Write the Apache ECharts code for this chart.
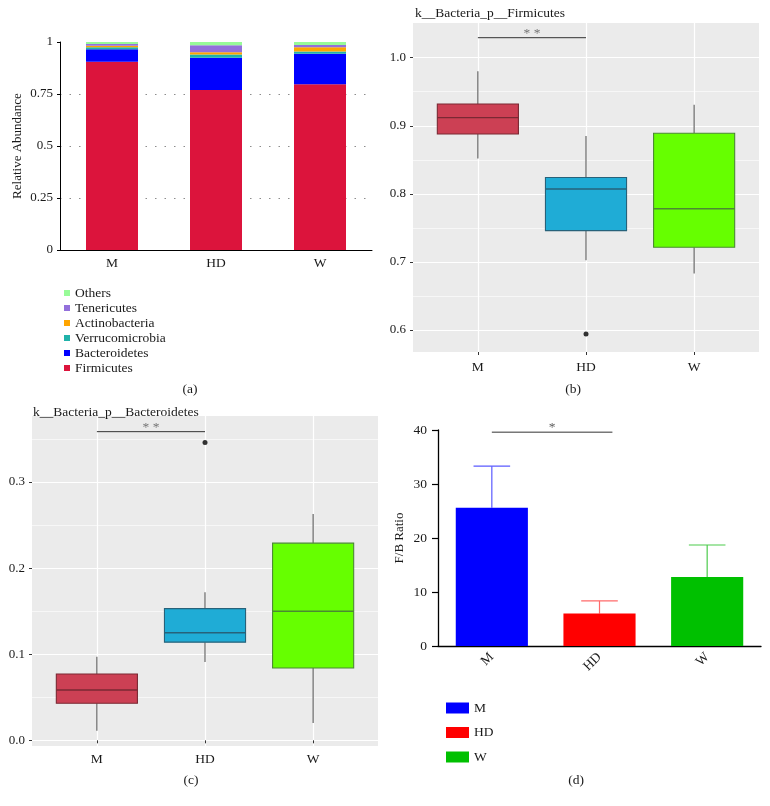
<!DOCTYPE html>
<html><head><meta charset="utf-8">
<script src="https://cdn.jsdelivr.net/npm/echarts@6/dist/echarts.min.js"></script>
<style>html,body{margin:0;padding:0;background:#fff}#c{width:770px;height:806px}</style>
</head><body><div id="c"></div>
<script>
const FONT = '"Liberation Serif", "DejaVu Serif", serif';
const TXT = '#1a1a1a';

// ---------- Panel (a): relative abundance ----------
const groups = ['M', 'HD', 'W'];
const phylaNames = ['Firmicutes', 'Bacteroidetes', 'Verrucomicrobia', 'Actinobacteria', 'Tenericutes', 'Others'];
const firmicutesRA = [0.905, 0.769, 0.797];
const bacteroidetesRA = [0.060, 0.155, 0.146];
const verrucomicrobiaRA = [0.010, 0.016, 0.011];
const actinobacteriaRA = [0.007, 0.011, 0.021];
const tenericutesRA = [0.008, 0.033, 0.011];
const othersRA = [0.010, 0.016, 0.014];
const phylaColors = ['#DC143C', '#0000FF', '#20B2AA', '#FFA500', '#9370DB', '#98FB98'];
const raGridLines = [0.25, 0.5, 0.75];

// ---------- Panel (b): Firmicutes boxplot [min, Q1, median, Q3, max] ----------
const firmBox = [
  [0.852, 0.888, 0.912, 0.932, 0.980],
  [0.7025, 0.746, 0.807, 0.824, 0.885],
  [0.683, 0.7215, 0.778, 0.889, 0.931]
];
const firmOutliers = [[2, 0.594]];
const firmTicks = [0.6, 0.7, 0.8, 0.9, 1.0];
const firmMinor = [0.65, 0.75, 0.85, 0.95];
const firmSig = [[1, 1.0294], [2, 1.0294]];

// ---------- Panel (c): Bacteroidetes boxplot ----------
const bactBox = [
  [0.011, 0.043, 0.0585, 0.077, 0.097],
  [0.091, 0.114, 0.125, 0.153, 0.172],
  [0.020, 0.084, 0.150, 0.229, 0.263]
];
const bactOutliers = [[2, 0.346]];
const bactTicks = [0.0, 0.1, 0.2, 0.3];
const bactMinor = [0.05, 0.15, 0.25, 0.35];
const bactSig = [[1, 0.3585], [2, 0.3585]];

// ---------- Panel (d): F/B ratio ----------
const fbMean = [25.6, 6.0, 12.8];
const fbSEM = [7.7, 2.35, 5.9];
const fbSig = [[0.5, 39.6], [1.62, 39.6]];

const boxFill = ['#CC4054', '#1FACD6', '#66FF00'];
const boxStroke = ['#7A2833', '#27627A', '#4B8A33'];
const barColors = ['#0000FF', '#FF0000', '#00C000'];
const errColors = ['#5A5AFF', '#FF6A6A', '#4CCB4C'];

const chart = echarts.init(document.getElementById('c'), null, { renderer: 'canvas' });

function boxRender(params, api) {
  const x = api.value(0);
  const p = k => api.coord([x, api.value(k)]);
  const pMin = p(1), pQ1 = p(2), pMed = p(3), pQ3 = p(4), pMax = p(5);
  const hw = api.size([0.75, 0])[0] / 2;
  const cx = pMed[0];
  const i = params.dataIndex;
  const wl = { stroke: '#595959', lineWidth: 1.1 };
  return {
    type: 'group', children: [
      { type: 'line', shape: { x1: cx, y1: pMax[1], x2: cx, y2: pQ3[1] }, style: wl },
      { type: 'line', shape: { x1: cx, y1: pQ1[1], x2: cx, y2: pMin[1] }, style: wl },
      { type: 'rect', shape: { x: cx - hw, y: pQ3[1], width: 2 * hw, height: pQ1[1] - pQ3[1] },
        style: { fill: boxFill[i], stroke: boxStroke[i], lineWidth: 1.1 } },
      { type: 'line', shape: { x1: cx - hw, y1: pMed[1], x2: cx + hw, y2: pMed[1] },
        style: { stroke: boxStroke[i], lineWidth: 1.4 } }
    ]
  };
}

function errRender(params, api) {
  const x = api.value(0);
  const base = api.coord([x, api.value(1)]);
  const top = api.coord([x, api.value(2)]);
  const hw = api.size([1, 0])[0] * 0.17;
  const i = params.dataIndex;
  const st = { stroke: errColors[i], lineWidth: 1.2 };
  return {
    type: 'group', children: [
      { type: 'line', shape: { x1: base[0], y1: base[1], x2: top[0], y2: top[1] }, style: st },
      { type: 'line', shape: { x1: top[0] - hw, y1: top[1], x2: top[0] + hw, y2: top[1] }, style: st }
    ]
  };
}

const ggX = (cv) => ({
  type: 'value', min: 0.4, max: 3.6,
  axisLine: { show: false },
  axisTick: { show: true, customValues: [1, 2, 3], length: 3, lineStyle: { color: '#333', width: 1 } },
  axisLabel: { customValues: [1, 2, 3], formatter: v => groups[Math.round(v) - 1] || '',
    fontFamily: FONT, fontSize: 13.5, color: TXT, margin: cv },
  splitLine: { show: true, lineStyle: { color: '#FFFFFF', width: 1.2 } }
});
const ggY = (min, max, ticks) => ({
  type: 'value', min: min, max: max,
  axisLine: { show: false },
  axisTick: { show: true, customValues: ticks, length: 3, lineStyle: { color: '#333', width: 1 } },
  axisLabel: { customValues: ticks, formatter: v => v.toFixed(1), fontFamily: FONT, fontSize: 13, color: TXT, margin: 7 },
  splitLine: { show: true, lineStyle: { color: '#FFFFFF', width: 1.2 } }
});
const ggMinor = (min, max, ticks) => ({
  type: 'value', min: min, max: max,
  axisLine: { show: false },
  axisTick: { show: false, customValues: ticks },
  axisLabel: { show: false, customValues: ticks },
  splitLine: { show: true, lineStyle: { color: '#FFFFFF', width: 0.6 } }
});

const option = {
  backgroundColor: '#FFFFFF',
  animation: false,
  textStyle: { fontFamily: FONT },
  grid: [
    { left: 60, top: 42, width: 312, height: 208 },
    { left: 413, top: 23, width: 346, height: 329, show: true, backgroundColor: '#EBEBEB', borderWidth: 0 },
    { left: 32, top: 416, width: 346, height: 330, show: true, backgroundColor: '#EBEBEB', borderWidth: 0 },
    { left: 438, top: 430, width: 323, height: 216 }
  ],
  xAxis: [
    { gridIndex: 0, type: 'category', data: groups,
      axisLine: { lineStyle: { color: '#000', width: 1 } },
      axisTick: { length: 4, lineStyle: { color: '#000' } },
      axisLabel: { fontFamily: FONT, fontSize: 13.5, color: TXT, margin: 6 } },
    Object.assign({ gridIndex: 1 }, ggX(8)),
    Object.assign({ gridIndex: 2 }, ggX(6)),
    { gridIndex: 3, type: 'category', data: groups,
      axisLine: { lineStyle: { color: '#000', width: 1.3 } },
      axisTick: { alignWithLabel: true, length: 6, lineStyle: { color: '#000', width: 1.2 } },
      axisLabel: { rotate: 45, fontFamily: FONT, fontSize: 13.5, color: TXT, margin: 9 } },
    { gridIndex: 3, type: 'value', min: 0, max: 3, show: false }
  ],
  yAxis: [
    { gridIndex: 0, type: 'value', min: 0, max: 1, interval: 0.25,
      name: 'Relative Abundance', nameLocation: 'middle', nameGap: 36,
      nameTextStyle: { fontFamily: FONT, fontSize: 13, color: TXT },
      axisLine: { show: true, lineStyle: { color: '#000', width: 1 } },
      axisTick: { show: true, length: 3, lineStyle: { color: '#000' } },
      axisLabel: { formatter: v => String(v), fontFamily: FONT, fontSize: 13, color: TXT, margin: 7 },
      splitLine: { show: false } },
    { gridIndex: 0, type: 'value', min: 0, max: 1,
      axisLine: { show: false },
      axisTick: { show: false, customValues: raGridLines },
      axisLabel: { show: false, customValues: raGridLines },
      splitLine: { show: true, lineStyle: { color: '#8c8c8c', width: 1, type: [1.5, 8] } } },
    Object.assign({ gridIndex: 1 }, ggY(0.5676, 1.051, firmTicks)),
    Object.assign({ gridIndex: 1 }, ggMinor(0.5676, 1.051, firmMinor)),
    Object.assign({ gridIndex: 2 }, ggY(-0.0066, 0.3767, bactTicks)),
    Object.assign({ gridIndex: 2 }, ggMinor(-0.0066, 0.3767, bactMinor)),
    { gridIndex: 3, type: 'value', min: 0, max: 40, interval: 10,
      name: 'F/B Ratio', nameLocation: 'middle', nameGap: 32,
      nameTextStyle: { fontFamily: FONT, fontSize: 13, color: TXT },
      axisLine: { show: true, lineStyle: { color: '#000', width: 1.3 } },
      axisTick: { show: true, length: 6, lineStyle: { color: '#000', width: 1.2 } },
      axisLabel: { fontFamily: FONT, fontSize: 13.5, color: TXT, margin: 11 },
      splitLine: { show: false } }
  ],
  legend: [
    { left: 59, top: 281, orient: 'vertical', icon: 'rect', itemWidth: 6, itemHeight: 6, itemGap: 1,
      data: ['Others', 'Tenericutes', 'Actinobacteria', 'Verrucomicrobia', 'Bacteroidetes', 'Firmicutes'],
      textStyle: { fontFamily: FONT, fontSize: 13.5, color: TXT, lineHeight: 13 }, selectedMode: false },
    { left: 441, top: 696, orient: 'vertical', icon: 'rect', itemWidth: 23, itemHeight: 11, itemGap: 10.5,
      data: ['M', 'HD', 'W'],
      textStyle: { fontFamily: FONT, fontSize: 13.5, color: TXT, lineHeight: 14 }, selectedMode: false }
  ],
  graphic: [
    { type: 'text', x: 415, y: 13, style: { text: 'k__Bacteria_p__Firmicutes', font: '13.5px ' + FONT, fill: TXT, textVerticalAlign: 'middle' } },
    { type: 'text', x: 33, y: 412, style: { text: 'k__Bacteria_p__Bacteroidetes', font: '13.5px ' + FONT, fill: TXT, textVerticalAlign: 'middle' } },
    { type: 'text', x: 190, y: 389, style: { text: '(a)', font: '13.5px ' + FONT, fill: TXT, textAlign: 'center', textVerticalAlign: 'middle' } },
    { type: 'text', x: 573, y: 389, style: { text: '(b)', font: '13.5px ' + FONT, fill: TXT, textAlign: 'center', textVerticalAlign: 'middle' } },
    { type: 'text', x: 191, y: 780, style: { text: '(c)', font: '13.5px ' + FONT, fill: TXT, textAlign: 'center', textVerticalAlign: 'middle' } },
    { type: 'text', x: 576, y: 780, style: { text: '(d)', font: '13.5px ' + FONT, fill: TXT, textAlign: 'center', textVerticalAlign: 'middle' } }
  ],
  series: []
};

const raSeries = [firmicutesRA, bacteroidetesRA, verrucomicrobiaRA, actinobacteriaRA, tenericutesRA, othersRA];
raSeries.forEach((arr, k) => {
  option.series.push({
    name: phylaNames[k], type: 'bar', stack: 'ra', xAxisIndex: 0, yAxisIndex: 0,
    barWidth: '50%', data: arr, itemStyle: { color: phylaColors[k] }, silent: true
  });
});

function addBoxPanel(xi, yi, box, outliers, sig, tag) {
  option.series.push({
    name: tag + ' box', type: 'custom', xAxisIndex: xi, yAxisIndex: yi,
    data: box.map((s, i) => [i + 1].concat(s)),
    encode: { x: 0, y: [1, 2, 3, 4, 5] },
    renderItem: boxRender, z: 3, silent: true
  });
  option.series.push({
    name: tag + ' outlier', type: 'scatter', xAxisIndex: xi, yAxisIndex: yi,
    data: outliers, symbolSize: 5, itemStyle: { color: '#000' }, z: 4, silent: true
  });
  option.series.push({
    name: tag + ' sig', type: 'line', xAxisIndex: xi, yAxisIndex: yi,
    data: sig, symbol: 'none', lineStyle: { color: '#333', width: 1 }, z: 4, silent: true
  });
  option.series.push({
    name: tag + ' sigLabel', type: 'scatter', xAxisIndex: xi, yAxisIndex: yi,
    data: [[(sig[0][0] + sig[1][0]) / 2, sig[0][1]]], symbolSize: 1, itemStyle: { color: 'rgba(0,0,0,0)' },
    label: { show: true, formatter: '* *', position: 'inside', offset: [0, -4], fontFamily: FONT, fontSize: 13.5, color: '#555' },
    z: 4, silent: true
  });
}
addBoxPanel(1, 2, firmBox, firmOutliers, firmSig, 'firm');
addBoxPanel(2, 4, bactBox, bactOutliers, bactSig, 'bact');

groups.forEach((g, i) => {
  option.series.push({
    name: g, type: 'bar', xAxisIndex: 3, yAxisIndex: 6, barWidth: '67%', barGap: '-100%',
    data: fbMean.map((v, j) => (j === i ? v : '-')),
    itemStyle: { color: barColors[i] }, silent: true
  });
});
option.series.push({
  name: 'fb err', type: 'custom', xAxisIndex: 3, yAxisIndex: 6,
  data: fbMean.map((m, i) => [i, m, m + fbSEM[i]]),
  encode: { x: 0, y: [1, 2] }, renderItem: errRender, z: 1, silent: true
});
option.series.push({
  name: 'fb sig', type: 'line', xAxisIndex: 4, yAxisIndex: 6,
  data: fbSig, symbol: 'none', lineStyle: { color: '#333', width: 1 }, silent: true
});
option.series.push({
  name: 'fb sigLabel', type: 'scatter', xAxisIndex: 4, yAxisIndex: 6,
  data: [[(fbSig[0][0] + fbSig[1][0]) / 2, fbSig[0][1]]], symbolSize: 1, itemStyle: { color: 'rgba(0,0,0,0)' },
  label: { show: true, formatter: '*', position: 'inside', offset: [0, -5], fontFamily: FONT, fontSize: 13.5, color: '#333' },
  silent: true
});

chart.setOption(option);
</script></body></html>
